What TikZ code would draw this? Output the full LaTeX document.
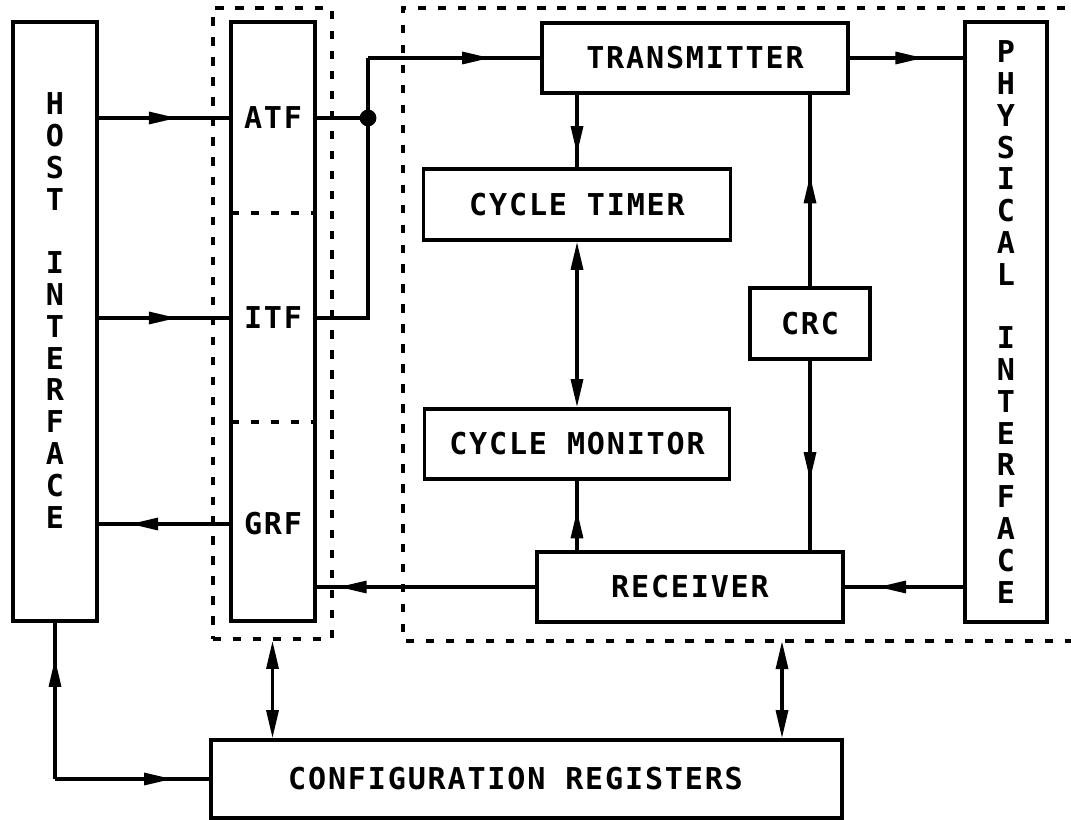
\documentclass[tikz,border=0pt]{standalone}
\usepackage{fontspec}
\usetikzlibrary{arrows.meta,decorations.markings}
\newfontfamily\plotter[LetterSpace=6]{DejaVu Sans Mono}

\begin{document}
\begin{tikzpicture}[x=0.025cm, y=-0.025cm, line width=2.4pt,
    >={Triangle[length=20pt, width=8.5pt]},
    txt/.style={inner sep=0pt, font=\plotter\bfseries\fontsize{21.4}{22.6}\selectfont},
    vtxt/.style={txt, align=center},
    blk/.style={draw, txt},
    dashline/.style={dash pattern=on 6pt off 8.2pt},
    mid/.style={postaction={decorate}, decoration={markings,
        mark=at position #1 with {\arrow{>}}}}]
    \useasboundingbox (0,0) rectangle (1071,820);
    % side interfaces
    \node[blk, minimum width=2.1cm, minimum height=14.975cm] (host) at (55,321.5) {};
    \node[vtxt] (hosttxt) at ([yshift=7.8pt]host.center) {H\\O\\S\\T\\ \\I\\N\\T\\E\\R\\F\\A\\C\\E};
    \node[blk, minimum width=2.05cm, minimum height=15cm, align=center] (phys) at (1006,322)
        {P\\H\\Y\\S\\I\\C\\A\\L\\ \\I\\N\\T\\E\\R\\F\\A\\C\\E};
    % fifos
    \node[draw, dashline, minimum width=2.975cm, minimum height=15.775cm] (grp) at (272.5,323.5) {};
    \node[blk, minimum width=2.1cm, minimum height=14.975cm] (fifo) at (273,321.5) {};
    \node[txt] (atf) at (273,118) {ATF};
    \node[txt] (itf) at (273,318) {ITF};
    \node[txt] (grf) at (273,524) {GRF};
    \draw[dashline] (231,213) -- (315,213);
    \draw[dashline] (231,422) -- (315,422);
    % link core
    \draw[dashline] (1085,8) -- (403,8) -- (403,641) -- (1085,641);
    \node[blk, minimum width=7.65cm, minimum height=1.75cm] (tx) at (695,58) {TRANSMITTER};
    \node[blk, minimum width=7.675cm, minimum height=1.775cm] (ct) at (577,204.5) {CYCLE TIMER};
    \node[blk, minimum width=3cm, minimum height=1.775cm] (crc) at (810,323.5) {CRC};
    \node[blk, minimum width=7.625cm, minimum height=1.75cm] (cm) at (577,444) {CYCLE MONITOR};
    \node[blk, minimum width=7.65cm, minimum height=1.75cm] (rx) at (690,587) {RECEIVER};
    % registers
    \node[blk, minimum width=15.775cm, minimum height=1.95cm] (cfg) at (526.5,779) {};
    \node[txt] (cfgtxt) at ([xshift=-7.8pt]cfg.center) {CONFIGURATION REGISTERS};

    \coordinate (jn) at (368,118);
    \coordinate (jt) at (368,58);
    \coordinate (hc) at (host.south |- cfg.west);
    \coordinate (lnk) at (782,641);

    \draw[mid=0.6] (host.east |- atf) -- (fifo.west |- atf);
    \draw[mid=0.6] (host.east |- itf) -- (fifo.west |- itf);
    \draw[mid=0.76] (fifo.west |- grf) -- (host.east |- grf);
    \draw (fifo.east |- atf) -- (jn);
    \fill (jn) circle (0.21cm);
    \draw (fifo.east |- itf) -| (jt);
    \draw[mid=0.71] (jt) -- (tx.west);
    \draw[mid=0.65] (tx.east) -- (phys.west |- tx.east);
    \draw[mid=0.82] (tx.south -| ct.north) -- (ct.north);
    \draw[<->] (ct.south) -- (cm.north);
    \draw[mid=0.575] (rx.north -| cm.south) -- (cm.south);
    \draw[mid=0.58] (crc.north) -- (crc.north |- tx.south);
    \draw[mid=0.63] (crc.south) -- (crc.south |- rx.north);
    \draw[mid=0.72] (phys.west |- rx.east) -- (rx.east);
    \draw[mid=0.9] (rx.west) -- (fifo.east |- rx.west);
    \draw[mid=0.77] (hc) -- (host.south);
    \draw[mid=0.76] (hc) -- (cfg.west);
    \draw[<->] (grp.south) -- (grp.south |- cfg.north);
    \draw[<->] (lnk) -- (lnk |- cfg.north);
\end{tikzpicture}
\end{document}
